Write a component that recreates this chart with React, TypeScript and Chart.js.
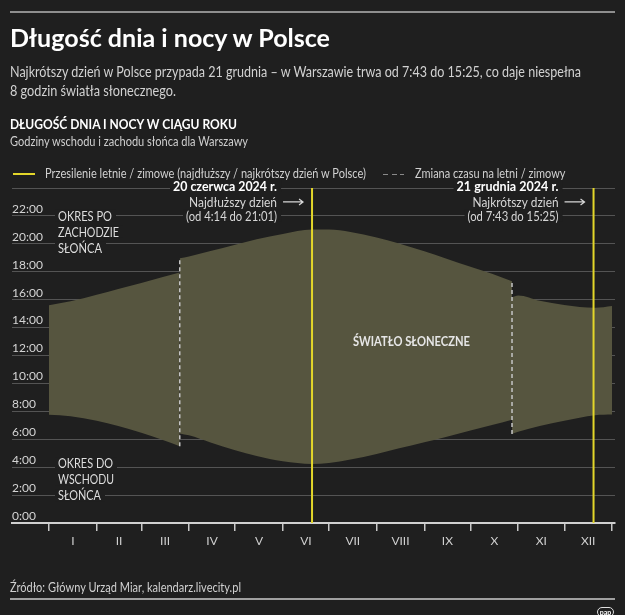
import React, { useEffect, useLayoutEffect, useRef } from 'react';
import { Chart, registerables } from 'chart.js';
Chart.register(...registerables);

const FONT = 'Lato, "Noto Sans", sans-serif';
const BG = '#1f1f1f';
const FILL = '#56553f';
const YELLOW = '#e3d62a';
const GRID = 'rgba(255,255,255,0.24)';

// day index: 0 = 1 Jan 2024 (leap year), 366 = end of 31 Dec
const monthStarts = [0, 31, 60, 91, 121, 152, 182, 213, 244, 274, 305, 335, 366];
const monthLabels = ['I', 'II', 'III', 'IV', 'V', 'VI', 'VII', 'VIII', 'IX', 'X', 'XI', 'XII'];
const yTicks = [0, 2, 4, 6, 8, 10, 12, 14, 16, 18, 20, 22, 24];

// winter time (until the spring clock change)
const seg1Days = [0, 14, 31, 45, 60, 74, 85];
const seg1Sunrise = [7.75, 7.65, 7.33, 6.95, 6.47, 5.95, 5.5];
const seg1Sunset = [15.6, 15.88, 16.35, 16.77, 17.2, 17.62, 17.95];

// summer time
const seg2Days = [85, 91, 105, 121, 135, 152, 171, 182, 196, 213, 227, 244, 258, 274, 288, 301];
const seg2Sunrise = [6.42, 6.28, 5.77, 5.22, 4.8, 4.42, 4.23, 4.3, 4.55, 4.95, 5.33, 5.78, 6.17, 6.62, 7.02, 7.4];
const seg2Sunset = [18.97, 19.1, 19.48, 19.93, 20.32, 20.7, 21.02, 21.02, 20.85, 20.45, 20.05, 19.47, 18.95, 18.35, 17.85, 17.32];

// winter time (after the autumn clock change)
const seg3Days = [301, 305, 319, 335, 355, 366];
const seg3Sunrise = [6.38, 6.53, 6.95, 7.33, 7.72, 7.77];
const seg3Sunset = [16.17, 16.3, 15.92, 15.62, 15.42, 15.55];

const solsticeDays = [171, 354];
const solsticeTitles = ['20 czerwca 2024 r.', '21 grudnia 2024 r.'];
const solsticeNotes = ['Najdłuższy dzień', 'Najkrótszy dzień'];
const solsticeRanges = ['(od 4:14 do 21:01)', '(od 7:43 do 15:25)'];
const dstDays = [85, 301];
const dstLow = [5.5, 6.38];
const dstHigh = [18.97, 17.32];

const nightLabels = ['OKRES PO', 'ZACHODZIE', 'SŁOŃCA'];
const morningLabels = ['OKRES DO', 'WSCHODU', 'SŁOŃCA'];
const dayLabel = 'ŚWIATŁO SŁONECZNE';

const pts = (days: number[], vals: number[]) => days.map((d, i) => ({ x: d, y: vals[i] }));

function drawFit(
  ctx: CanvasRenderingContext2D,
  text: string,
  opts: { left?: number; right?: number; cy: number; width: number; size: number; weight?: number; color: string; bg?: boolean }
) {
  const { cy, width, size, weight = 400, color, bg } = opts;
  ctx.save();
  ctx.font = `${weight} ${size}px ${FONT}`;
  ctx.textAlign = 'left';
  ctx.textBaseline = 'alphabetic';
  const w = ctx.measureText(text).width;
  const cap = ctx.measureText('H').actualBoundingBoxAscent;
  const left = opts.left !== undefined ? opts.left : (opts.right as number) - width;
  if (bg) {
    ctx.fillStyle = BG;
    ctx.fillRect(left - 3, cy - 6, width + 7, 12);
  }
  ctx.translate(left, cy + cap / 2);
  ctx.scale(width / w, 1);
  ctx.fillStyle = color;
  ctx.fillText(text, 0, 0);
  ctx.restore();
}

function drawArrow(ctx: CanvasRenderingContext2D, x0: number, x1: number, y: number) {
  ctx.save();
  ctx.strokeStyle = '#d8d8d8';
  ctx.lineWidth = 1.2;
  ctx.beginPath();
  ctx.moveTo(x0, y);
  ctx.lineTo(x1, y);
  ctx.moveTo(x1 - 4, y - 3);
  ctx.lineTo(x1, y);
  ctx.lineTo(x1 - 4, y + 3);
  ctx.stroke();
  ctx.restore();
}

const annotationPlugin = {
  id: 'annotations',
  afterDraw(chart: any) {
    const { ctx } = chart;
    const x = chart.scales.x;
    const y = chart.scales.y;
    const px = (v: number) => x.getPixelForValue(v);
    const py = (v: number) => y.getPixelForValue(v);
    const titleW = [104, 102];
    const noteW = [88, 86];
    const rangeW = [91, 91];
    solsticeDays.forEach((d, i) => {
      const right = px(d) - 35;
      drawFit(ctx, solsticeTitles[i], { right, cy: py(24) - 2, width: titleW[i], size: 13, weight: 700, color: '#ffffff', bg: true });
      drawFit(ctx, solsticeNotes[i], { right, cy: (py(24) + py(22)) / 2, width: noteW[i], size: 13, color: '#d6d6d6' });
      drawFit(ctx, solsticeRanges[i], { right, cy: py(22), width: rangeW[i], size: 13, color: '#d6d6d6', bg: true });
      drawArrow(ctx, px(d) - 29, px(d) - 9, (py(24) + py(22)) / 2);
    });
    const nightW = [54, 61, 44];
    nightLabels.forEach((t, i) => {
      drawFit(ctx, t, { left: 58, cy: py(22) + 16 * i, width: nightW[i], size: 13, color: '#dedede', bg: true });
    });
    const mornW = [55, 56, 43];
    morningLabels.forEach((t, i) => {
      drawFit(ctx, t, { left: 58, cy: py(2) - 32 + 16 * i, width: mornW[i], size: 13, color: '#dedede', bg: true });
    });
    drawFit(ctx, dayLabel, { left: 353, cy: (py(12) + py(14)) / 2 - 0.5, width: 117, size: 13, weight: 700, color: '#e6e6e6' });
  },
};

function Fit(props: { text: string; left: number; cy: number; width: number; size: number; weight?: number; color: string }) {
  const ref = useRef<HTMLSpanElement>(null);
  useLayoutEffect(() => {
    const el = ref.current;
    if (!el) return;
    el.style.transform = 'none';
    const w = el.getBoundingClientRect().width;
    if (w > 0) el.style.transform = `scaleX(${props.width / w})`;
  });
  const { text, left, cy, size, weight = 400, color } = props;
  return (
    <span
      ref={ref}
      style={{
        position: 'absolute',
        left,
        top: cy - 0.528 * size,
        fontSize: size,
        lineHeight: `${size}px`,
        fontWeight: weight,
        color,
        whiteSpace: 'nowrap',
        display: 'inline-block',
        transformOrigin: '0 0',
        fontFamily: FONT,
      }}
    >
      {text}
    </span>
  );
}

export default function App() {
  const canvasRef = useRef<HTMLCanvasElement>(null);

  useLayoutEffect(() => {
    document.body.style.margin = '0';
    document.body.style.background = BG;
  }, []);

  useEffect(() => {
    const canvas = canvasRef.current;
    if (!canvas) return;
    const area = { borderColor: 'rgba(0,0,0,0)', borderWidth: 0, pointRadius: 0, cubicInterpolationMode: 'monotone' as const };
    const chart = new Chart(canvas, {
      type: 'line',
      data: {
        datasets: [
          { ...area, data: pts(seg1Days, seg1Sunrise), fill: false },
          { ...area, data: pts(seg1Days, seg1Sunset), fill: '-1', backgroundColor: FILL },
          { ...area, data: pts(seg2Days, seg2Sunrise), fill: false },
          { ...area, data: pts(seg2Days, seg2Sunset), fill: '-1', backgroundColor: FILL },
          { ...area, data: pts(seg3Days, seg3Sunrise), fill: false },
          { ...area, data: pts(seg3Days, seg3Sunset), fill: '-1', backgroundColor: FILL },
          ...dstDays.map((d, i) => ({
            data: [{ x: d, y: dstLow[i] }, { x: d, y: dstHigh[i] }],
            borderColor: '#c4c4c4',
            borderWidth: 1.5,
            borderDash: [4, 3],
            pointRadius: 0,
            fill: false,
            order: -1,
          })),
          ...solsticeDays.map((d) => ({
            data: [{ x: d, y: 0 }, { x: d, y: 24 }],
            borderColor: YELLOW,
            borderWidth: 2,
            pointRadius: 0,
            fill: false,
            order: -2,
          })),
        ] as any,
      },
      options: {
        responsive: false,
        animation: false,
        events: [],
        layout: { padding: { left: 12, right: 10, top: 188, bottom: 63.6 } },
        plugins: { legend: { display: false }, tooltip: { enabled: false } },
        scales: {
          x: {
            type: 'linear',
            position: 'bottom',
            min: -24.05,
            max: 367.95,
            afterBuildTicks: (s: any) => {
              s.ticks = monthStarts.map((v) => ({ value: v }));
            },
            ticks: { display: false },
            grid: { display: true, drawOnChartArea: false, drawTicks: true, tickLength: 8, color: '#c8c8c8', lineWidth: 1.5 },
            border: { display: true, color: '#d0d0d0', width: 2 },
          },
          x2: {
            type: 'linear',
            position: 'bottom',
            min: -24.05,
            max: 367.95,
            afterBuildTicks: (s: any) => {
              s.ticks = monthLabels.map((_, i) => ({ value: (monthStarts[i] + monthStarts[i + 1]) / 2 }));
            },
            ticks: {
              autoSkip: false,
              maxRotation: 0,
              padding: 3,
              color: '#d0d0d0',
              font: { family: FONT, size: 12 },
              callback: (_v: any, i: number) => monthLabels[i],
            },
            grid: { display: false, drawTicks: false },
            border: { display: false },
          },
          y: {
            type: 'linear',
            position: 'left',
            min: 0,
            max: 24,
            z: 1,
            afterBuildTicks: (s: any) => {
              s.ticks = yTicks.map((v) => ({ value: v }));
            },
            ticks: {
              mirror: true,
              padding: 0,
              labelOffset: -7,
              color: '#d4d4d4',
              font: { family: FONT, size: 12 },
              callback: (v: any) => (v === 24 ? '' : `${v}:00`),
            },
            grid: {
              drawTicks: false,
              color: (c: any) => (c.tick && c.tick.value === 0 ? 'rgba(0,0,0,0)' : GRID),
              lineWidth: 1,
            },
            border: { display: false },
          },
        },
      },
      plugins: [annotationPlugin],
    } as any);
    return () => chart.destroy();
  }, []);

  return (
    <div style={{ position: 'relative', width: 625, height: 615, background: BG, overflow: 'hidden', fontFamily: FONT }}>
      <canvas ref={canvasRef} width={625} height={615} style={{ position: 'absolute', left: 0, top: 0, width: 625, height: 615 }} />
      <div style={{ position: 'absolute', left: 10, top: 11, width: 605, height: 2, background: '#8e8e8e' }} />
      <Fit text="Długość dnia i nocy w Polsce" left={10} cy={38} width={320} size={25} weight={700} color="#ffffff" />
      <Fit
        text="Najkrótszy dzień w Polsce przypada 21 grudnia – w Warszawie trwa od 7:43 do 15:25, co daje niespełna"
        left={10}
        cy={72}
        width={571}
        size={15}
        weight={400}
        color="#d2d2d2"
      />
      <Fit text="8 godzin światła słonecznego." left={10} cy={91} width={166} size={15} color="#d2d2d2" />
      <Fit text="DŁUGOŚĆ DNIA I NOCY W CIĄGU ROKU" left={10} cy={124} width={227} size={14} weight={700} color="#ffffff" />
      <Fit text="Godziny wschodu i zachodu słońca dla Warszawy" left={10} cy={142} width={238} size={13.5} color="#cfcfcf" />
      <div style={{ position: 'absolute', left: 13, top: 173, width: 22, height: 2, background: YELLOW }} />
      <Fit
        text="Przesilenie letnie / zimowe (najdłuższy / najkrótszy dzień w Polsce)"
        left={44.6}
        cy={174}
        width={321}
        size={13}
        color="#d0d0d0"
      />
      <div style={{ position: 'absolute', left: 383, top: 173.5, width: 5, height: 1.5, background: '#8a8a8a' }} />
      <div style={{ position: 'absolute', left: 391.5, top: 173.5, width: 5, height: 1.5, background: '#8a8a8a' }} />
      <div style={{ position: 'absolute', left: 400, top: 173.5, width: 4, height: 1.5, background: '#8a8a8a' }} />
      <Fit text="Zmiana czasu na letni / zimowy" left={414.5} cy={174} width={150.5} size={13} color="#d0d0d0" />
      <Fit text="Źródło: Główny Urząd Miar, kalendarz.livecity.pl" left={10} cy={587} width={231} size={14} color="#d0d0d0" />
      <div style={{ position: 'absolute', left: 10, top: 598, width: 605, height: 2, background: '#a0a0a0' }} />
      <div
        style={{
          position: 'absolute',
          left: 597,
          top: 607,
          width: 17,
          height: 10,
          border: '1.2px solid #e0e0e0',
          borderRadius: 6,
          boxSizing: 'border-box',
          color: '#ffffff',
          fontSize: 7,
          fontWeight: 700,
          lineHeight: '8px',
          textAlign: 'center',
          fontFamily: FONT,
        }}
      >
        pap
      </div>
    </div>
  );
}
